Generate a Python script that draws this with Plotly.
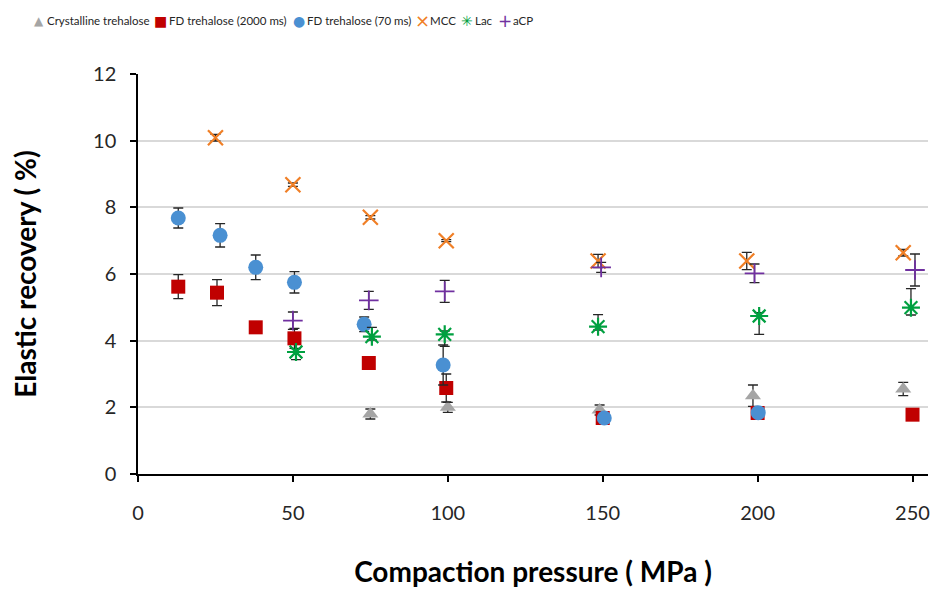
import plotly.graph_objects as go

# ---- data ----
cryst_x = [75, 100, 149, 198.5, 247]
cryst_y = [1.80, 2.00, 1.92, 2.35, 2.55]
cryst_err = [0.15, 0.15, 0.15, 0.32, 0.2]

fd2000_x = [13, 25.5, 38, 50.5, 74.5, 99.5, 150, 200, 250]
fd2000_y = [5.62, 5.44, 4.40, 4.07, 3.33, 2.58, 1.68, 1.83, 1.78]
fd2000_err = [0.36, 0.39, 0.10, 0.30, 0.10, 0.42, 0.10, 0.10, 0.10]

fd70_x = [13, 26.5, 38, 50.5, 73, 98.5, 150.5, 200.2]
fd70_y = [7.68, 7.16, 6.20, 5.75, 4.49, 3.27, 1.68, 1.84]
fd70_err = [0.30, 0.35, 0.37, 0.32, 0.22, 0.60, 0.05, 0.05]

mcc_x = [25, 50, 75, 99.5, 148.5, 196.5, 247]
mcc_y = [10.09, 8.68, 7.70, 7.00, 6.39, 6.39, 6.64]
mcc_err = [0.10, 0.05, 0.05, 0.03, 0.20, 0.26, 0.10]

lac_x = [51, 75.5, 99, 148.5, 200.5, 249.5]
lac_y = [3.66, 4.12, 4.19, 4.42, 4.74, 4.99]
lac_err_plus = [0.10, 0.28, 0.10, 0.36, 0.10, 0.57]
lac_err_minus = [0.23, 0.10, 0.36, 0.10, 0.55, 0.22]

acp_x = [50, 74.5, 99, 149.5, 199, 250.8]
acp_y = [4.60, 5.21, 5.48, 6.20, 6.02, 6.12]
acp_err = [0.26, 0.27, 0.33, 0.15, 0.28, 0.48]

series_names = ["Crystalline trehalose", "FD trehalose (2000 ms)", "FD trehalose (70 ms)",
                "MCC", "Lac", "aCP"]
series_colors = ["#A5A5A5", "#C00000", "#4A90D2", "#F07F26", "#00A040", "#7030A0"]

y_ticks = [0, 2, 4, 6, 8, 10, 12]
x_ticks = [0, 50, 100, 150, 200, 250]

FONT = "Lato"
ERR = dict(type="data", color="#262626", thickness=1.3, width=5, visible=True)

W, H = 936, 589
L, R, T, B = 138, 6, 74, 110

fig = go.Figure()

def err(a, minus=None):
    d = dict(ERR)
    d["array"] = a
    if minus is not None:
        d["symmetric"] = False
        d["arrayminus"] = minus
    return d

fig.add_trace(go.Scatter(
    x=cryst_x, y=cryst_y, mode="markers", name=series_names[0],
    marker=dict(symbol="triangle-up", size=14, color=series_colors[0]),
    error_y=err(cryst_err)))
fig.add_trace(go.Scatter(
    x=fd2000_x, y=fd2000_y, mode="markers", name=series_names[1],
    marker=dict(symbol="square", size=14, color=series_colors[1]),
    error_y=err(fd2000_err)))
fig.add_trace(go.Scatter(
    x=fd70_x, y=fd70_y, mode="markers", name=series_names[2],
    marker=dict(symbol="circle", size=15, color=series_colors[2]),
    error_y=err(fd70_err)))
fig.add_trace(go.Scatter(
    x=mcc_x, y=mcc_y, mode="markers", name=series_names[3],
    marker=dict(symbol="x-thin-open", size=15, color=series_colors[3],
                line=dict(width=2.2, color=series_colors[3])),
    error_y=err(mcc_err)))
fig.add_trace(go.Scatter(
    x=lac_x, y=lac_y, mode="markers", name=series_names[4],
    marker=dict(symbol="asterisk-open", size=15, color=series_colors[4],
                line=dict(width=2.2, color=series_colors[4])),
    error_y=err(lac_err_plus, lac_err_minus)))
fig.add_trace(go.Scatter(
    x=acp_x, y=acp_y, mode="markers", name=series_names[5],
    marker=dict(symbol="cross-thin-open", size=14, color=series_colors[5],
                line=dict(width=1.8, color=series_colors[5])),
    error_y=err(acp_err)))

# compact legend row (as in the reference) built from text glyphs
legend_glyphs = ["▲", "■", "●", "×", "✳", "+"]
legend_glyph_sizes = [12, 14, 14, 18, 14, 17]
legend_symbol_px = [39, 161, 299, 423, 468, 506]
legend_text_px = [46, 168, 306, 430, 475, 513]
legend_y_px = 20
pw, ph = W - L - R, H - T - B
annotations = []
for name, col, g, gs, sx, tx in zip(series_names, series_colors, legend_glyphs,
                                    legend_glyph_sizes, legend_symbol_px, legend_text_px):
    ly = (H - B - legend_y_px) / ph
    annotations.append(dict(
        xref="paper", yref="paper", x=(sx - L) / pw, y=ly,
        xanchor="center", yanchor="middle", showarrow=False, text=g,
        borderpad=0, font=dict(size=gs, family="DejaVu Sans", color=col)))
    annotations.append(dict(
        xref="paper", yref="paper", x=(tx - L) / pw, y=ly,
        xanchor="left", yanchor="middle", showarrow=False, text=name,
        borderpad=0, font=dict(size=11.5, family=FONT, color="#262626")))

fig.update_layout(
    width=W, height=H,
    margin=dict(l=L, r=R, t=T, b=B),
    paper_bgcolor="white", plot_bgcolor="white",
    font=dict(family=FONT, color="#262626"),
    showlegend=False,
    annotations=annotations,
    xaxis=dict(range=[0, 255], tickvals=x_ticks, ticktext=[str(v) for v in x_ticks],
               showgrid=False, zeroline=False,
               showline=True, linecolor="black", linewidth=1.5,
               ticks="outside", ticklen=6, tickcolor="black", tickwidth=1.5,
               ticklabelstandoff=14,
               tickfont=dict(size=20, family=FONT, color="#262626"),
               title=dict(text="<b>Compaction pressure ( MPa )</b>",
                          font=dict(size=28, family=FONT, color="black"),
                          standoff=40)),
    yaxis=dict(range=[0, 12], tickvals=y_ticks, ticktext=[str(v) for v in y_ticks],
               showgrid=True, gridcolor="#D9D9D9", gridwidth=1.5,
               zeroline=False,
               showline=True, linecolor="black", linewidth=1.5,
               ticks="outside", ticklen=6, tickcolor="black", tickwidth=1.5,
               ticklabelstandoff=10,
               tickfont=dict(size=20, family=FONT, color="#262626"),
               title=dict(text="<b>Elastic recovery ( %)</b>",
                          font=dict(size=28, family=FONT, color="black"),
                          standoff=48)),
)

fig.write_html("out.html", config={"displayModeBar": False},
               post_script="document.body.style.margin='0px';"
                           "document.body.style.overflow='hidden';")
